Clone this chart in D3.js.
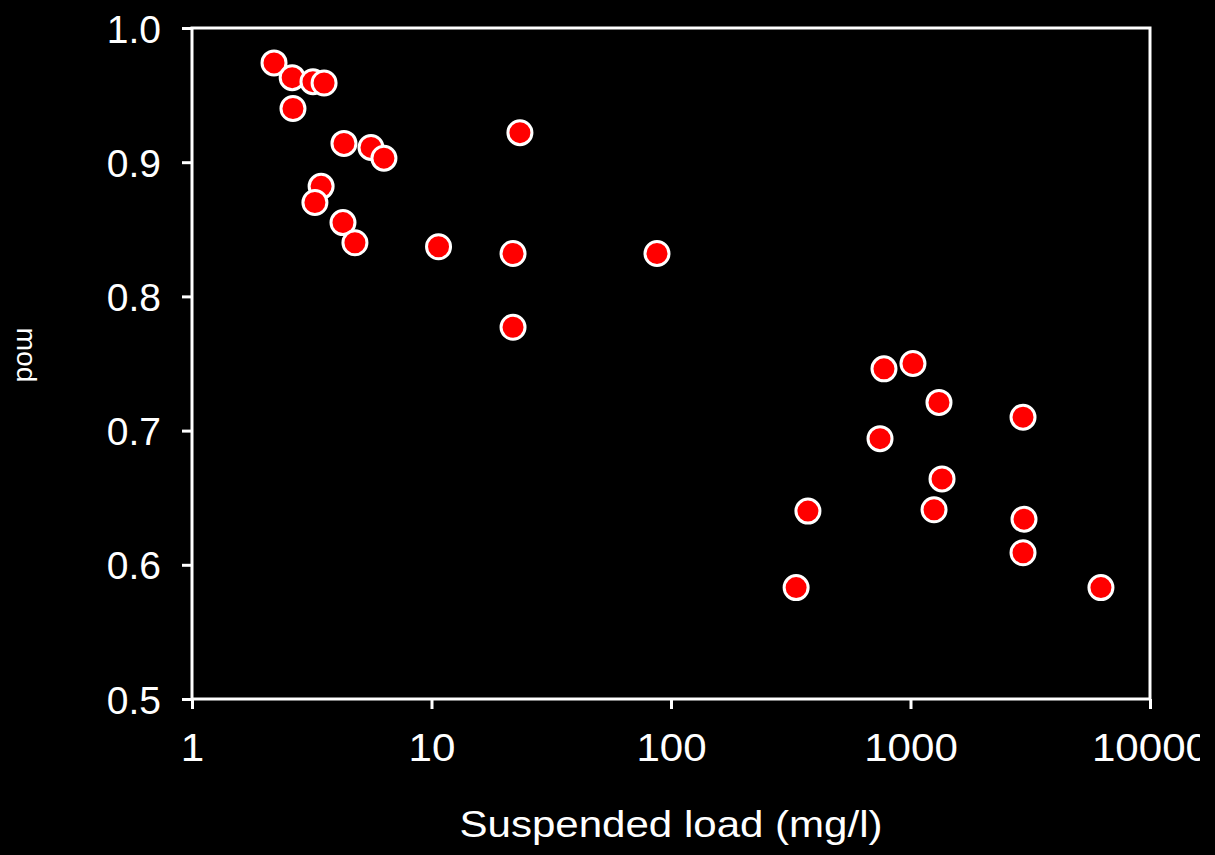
<!DOCTYPE html>
<html>
<head>
<meta charset="utf-8">
<script src="https://cdn.jsdelivr.net/npm/d3@7"></script>
<style>
  html, body { margin: 0; padding: 0; background: #000; }
  svg { display: block; }
</style>
</head>
<body>
<svg id="chart" width="1215" height="855"></svg>
<script>
// suspended load (mg/l) against "mod"
var load = [2.2, 2.62, 3.2, 3.56, 2.64, 4.31, 5.59, 6.33, 3.46, 3.26, 4.27, 4.79,
  10.7, 21.9, 23.4, 21.9, 87.4, 775, 1024, 1315, 2950, 746, 1354, 373, 1254,
  2978, 2950, 333, 6240];
var mod = [0.974, 0.963, 0.960, 0.959, 0.940, 0.914, 0.911, 0.903, 0.882, 0.870,
  0.855, 0.840, 0.837, 0.832, 0.922, 0.777, 0.832, 0.746, 0.750, 0.721, 0.710,
  0.694, 0.664, 0.640, 0.641, 0.634, 0.609, 0.583, 0.583];
var xTicks = [1, 10, 100, 1000, 10000];
var yTicks = [0.5, 0.6, 0.7, 0.8, 0.9, 1.0];

var svg = d3.select("#chart"),
  margin = {left: 192, right: 65, top: 28, bottom: 156},
  width = 1215 - margin.left - margin.right,
  height = 855 - margin.top - margin.bottom;

// clip like the original export, which cuts off the last tick label
svg.append("clipPath").attr("id", "clip")
  .append("rect").attr("width", 1200).attr("height", 855);

var root = svg.append("g").attr("clip-path", "url(#clip)");
var g = root.append("g").attr("transform", "translate(" + margin.left + "," + margin.top + ")");

var x = d3.scaleLog().domain([1, 10000]).range([0, width]);
var y = d3.scaleLinear().domain([0.5, 1.0]).range([height, 0]);

// frame
g.append("rect")
  .attr("width", width).attr("height", height)
  .attr("fill", "none").attr("stroke", "#fff").attr("stroke-width", 3);

var xAxis = g.append("g")
  .attr("transform", "translate(0," + height + ")")
  .call(d3.axisBottom(x).tickValues(xTicks).tickFormat(d3.format("d")).tickSize(10).tickPadding(24));

var yAxis = g.append("g")
  .call(d3.axisLeft(y).tickValues(yTicks).tickFormat(d3.format(".1f")).tickSize(10).tickPadding(21));

[xAxis, yAxis].forEach(function(a) {
  a.select(".domain").remove();
  a.selectAll(".tick line").attr("stroke", "#fff").attr("stroke-width", 3);
  a.selectAll(".tick text")
    .attr("fill", "#fff")
    .style("font-family", "'Liberation Sans', Arial, sans-serif")
    .style("font-size", "39px");
});
xAxis.selectAll(".tick text").attr("transform", "scale(1.08,1)");
yAxis.selectAll(".tick text").attr("dy", "0.36em");

// points
g.selectAll("circle")
  .data(load)
  .enter()
  .append("circle")
    .attr("cx", function(d) { return x(d); })
    .attr("cy", function(d, i) { return y(mod[i]); })
    .attr("r", 12)
    .attr("fill", "#ff0000")
    .attr("stroke", "#fff")
    .attr("stroke-width", 3);

// axis titles
root.append("text")
  .attr("x", 671).attr("y", 837)
  .attr("text-anchor", "middle")
  .attr("fill", "#fff")
  .attr("textLength", 423)
  .attr("lengthAdjust", "spacingAndGlyphs")
  .style("font-family", "'Liberation Sans', Arial, sans-serif")
  .style("font-size", "37px")
  .text("Suspended load (mg/l)");

root.append("text")
  .attr("transform", "translate(17,355) rotate(90)")
  .attr("text-anchor", "middle")
  .attr("fill", "#fff")
  .attr("textLength", 55)
  .attr("lengthAdjust", "spacingAndGlyphs")
  .style("font-family", "'Liberation Sans', Arial, sans-serif")
  .style("font-size", "28px")
  .text("mod");
</script>
</body>
</html>
